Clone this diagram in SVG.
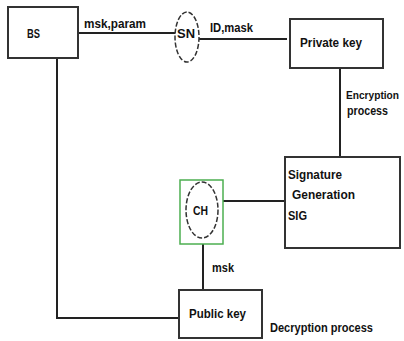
<svg xmlns="http://www.w3.org/2000/svg" width="404" height="341" viewBox="0 0 404 341">
<style>
.box{fill:#fff;stroke:#333;stroke-width:2}
.ell{fill:#fff;stroke:#333;stroke-width:1.5;stroke-dasharray:5 2}
.ln{fill:none;stroke:#222;stroke-width:2}
text{font-family:"Liberation Sans",Arial,sans-serif;font-weight:bold;font-size:13.5px;fill:#111}
text.sm{font-size:10.5px}
</style>
<rect width="404" height="341" fill="#fff"/>
<g id="connectors">
<line class="ln" x1="78" y1="33" x2="175" y2="33"/>
<line class="ln" x1="199" y1="39" x2="287" y2="39"/>
<line class="ln" x1="340" y1="68" x2="340" y2="157"/>
<line class="ln" x1="218" y1="201" x2="285" y2="201"/>
<line class="ln" x1="203" y1="244" x2="203" y2="290"/>
<polyline class="ln" points="57,58 57,318 180,318"/>
<text x="84" y="28" textLength="62" lengthAdjust="spacingAndGlyphs">msk,param</text>
<text x="210" y="32" textLength="43" lengthAdjust="spacingAndGlyphs">ID,mask</text>
<text class="sm" x="346" y="99" textLength="53" lengthAdjust="spacingAndGlyphs">Encryption</text>
<text x="347" y="115" textLength="41" lengthAdjust="spacingAndGlyphs">process</text>
<text x="212" y="272" textLength="22" lengthAdjust="spacingAndGlyphs">msk</text>
<text x="270" y="332" textLength="103" lengthAdjust="spacingAndGlyphs">Decryption process</text>
</g>
<g id="BS">
<rect class="box" x="8" y="7" width="70" height="51"/>
<text x="27" y="38" textLength="13" lengthAdjust="spacingAndGlyphs">BS</text>
</g>
<g id="SN">
<ellipse class="ell" cx="187" cy="37" rx="12" ry="25"/>
<text x="177" y="38" textLength="18" lengthAdjust="spacingAndGlyphs">SN</text>
</g>
<g id="PrivateKey">
<rect class="box" x="290" y="19" width="93" height="49"/>
<text x="300" y="47" textLength="62" lengthAdjust="spacingAndGlyphs">Private key</text>
</g>
<g id="SignatureGeneration">
<rect class="box" x="285" y="157" width="115" height="91"/>
<text x="288" y="179" textLength="54" lengthAdjust="spacingAndGlyphs">Signature</text>
<text x="292" y="199" textLength="63" lengthAdjust="spacingAndGlyphs">Generation</text>
<text x="288" y="220" textLength="19" lengthAdjust="spacingAndGlyphs">SIG</text>
</g>
<g id="CH">
<rect x="180" y="180" width="43" height="64" fill="#fff" stroke="#4caf50" stroke-width="1.5"/>
<ellipse class="ell" cx="202" cy="210" rx="16" ry="28"/>
<text x="193" y="215" textLength="15" lengthAdjust="spacingAndGlyphs">CH</text>
</g>
<g id="PublicKey">
<rect class="box" x="179" y="290" width="83" height="48"/>
<text x="189" y="318" textLength="57" lengthAdjust="spacingAndGlyphs">Public key</text>
</g>
</svg>
